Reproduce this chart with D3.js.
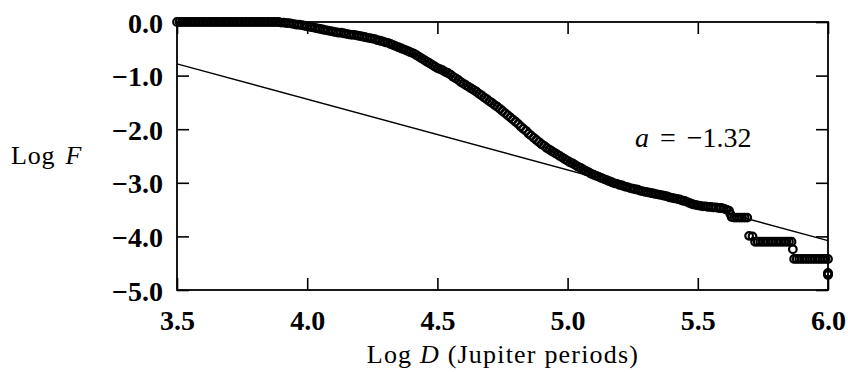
<!DOCTYPE html>
<html>
<head>
<meta charset="utf-8">
<script src="https://cdn.jsdelivr.net/npm/d3@7"></script>
<style>
  body { margin: 0; background: #fff; }
  svg text { font-family: "Liberation Serif", "Times New Roman", serif; fill: #000; }
</style>
</head>
<body>
<script>
// cumulative distribution (Log D, Log F)
var logD = [
  3.50,3.51,3.52,3.53,3.54,3.55,3.56,3.57,3.58,3.59,
  3.60,3.61,3.62,3.63,3.64,3.65,3.66,3.67,3.68,3.69,
  3.70,3.71,3.72,3.73,3.74,3.75,3.76,3.77,3.78,3.79,
  3.80,3.81,3.82,3.83,3.84,3.85,3.86,3.87,3.88,3.89,
  3.90,3.91,3.92,3.93,3.94,3.95,3.96,3.97,3.98,3.99,
  4.00,4.01,4.02,4.03,4.04,4.05,4.06,4.07,4.08,4.09,
  4.10,4.11,4.12,4.13,4.14,4.15,4.16,4.17,4.18,4.19,
  4.20,4.21,4.22,4.23,4.24,4.25,4.26,4.27,4.28,4.29,
  4.30,4.31,4.32,4.33,4.34,4.35,4.36,4.37,4.38,4.39,
  4.40,4.41,4.42,4.43,4.44,4.45,4.46,4.47,4.48,4.49,
  4.50,4.51,4.52,4.53,4.54,4.55,4.56,4.57,4.58,4.59,
  4.60,4.61,4.62,4.63,4.64,4.65,4.66,4.67,4.68,4.69,
  4.70,4.71,4.72,4.73,4.74,4.75,4.76,4.77,4.78,4.79,
  4.80,4.81,4.82,4.83,4.84,4.85,4.86,4.87,4.88,4.89,
  4.90,4.91,4.92,4.93,4.94,4.95,4.96,4.97,4.98,4.99,
  5.00,5.01,5.02,5.03,5.04,5.05,5.06,5.07,5.08,5.09,
  5.10,5.11,5.12,5.13,5.14,5.15,5.16,5.17,5.18,5.19,
  5.20,5.21,5.22,5.23,5.24,5.25,5.26,5.27,5.28,5.29,
  5.30,5.31,5.32,5.33,5.34,5.35,5.36,5.37,5.38,5.39,
  5.40,5.41,5.42,5.43,5.44,5.45,5.46,5.47,5.48,5.49,
  5.50,5.51,5.52,5.53,5.54,5.55,5.56,5.57,5.58,5.59,
  5.60,5.61,5.62,5.625,5.63,5.64,5.65,5.66,5.67,5.68,5.69,
  5.697,5.71,
  5.72,5.73,5.74,5.75,5.76,5.77,5.78,5.79,5.80,5.81,5.82,5.83,5.84,5.85,5.86,
  5.865,
  5.87,5.88,5.89,5.90,5.91,5.92,5.93,5.94,5.95,5.96,5.97,5.98,5.99,6.00,
  6.00,6.00,6.00
];
var logF = [
  0,0,0,0,0,0,0,0,0,0,
  0,0,0,0,0,0,0,0,0,0,
  0,0,0,0,0,0,0,0,0,0,
  0,0,0,0,0,0,0,0,0,0,
  -0.01,-0.01,-0.02,-0.02,-0.03,-0.04,-0.05,-0.05,-0.06,-0.07,
  -0.08,-0.09,-0.10,-0.11,-0.12,-0.13,-0.14,-0.15,-0.16,-0.17,
  -0.18,-0.19,-0.20,-0.20,-0.21,-0.22,-0.23,-0.24,-0.24,-0.25,
  -0.26,-0.27,-0.28,-0.29,-0.30,-0.31,-0.32,-0.34,-0.35,-0.36,
  -0.38,-0.39,-0.41,-0.43,-0.45,-0.47,-0.49,-0.51,-0.53,-0.55,
  -0.57,-0.59,-0.62,-0.65,-0.68,-0.71,-0.74,-0.77,-0.80,-0.83,
  -0.86,-0.88,-0.90,-0.93,-0.95,-0.98,-1.02,-1.05,-1.08,-1.12,
  -1.15,-1.18,-1.21,-1.24,-1.27,-1.30,-1.34,-1.37,-1.41,-1.44,
  -1.48,-1.51,-1.55,-1.58,-1.62,-1.66,-1.70,-1.74,-1.78,-1.82,
  -1.86,-1.90,-1.95,-1.99,-2.03,-2.08,-2.12,-2.16,-2.20,-2.24,
  -2.28,-2.31,-2.35,-2.38,-2.41,-2.44,-2.47,-2.50,-2.53,-2.56,
  -2.59,-2.62,-2.64,-2.67,-2.70,-2.72,-2.75,-2.78,-2.80,-2.83,
  -2.85,-2.87,-2.89,-2.91,-2.93,-2.95,-2.97,-2.99,-3.01,-3.02,
  -3.04,-3.05,-3.07,-3.08,-3.10,-3.11,-3.12,-3.13,-3.15,-3.16,
  -3.17,-3.18,-3.19,-3.20,-3.21,-3.22,-3.23,-3.24,-3.25,-3.27,
  -3.28,-3.29,-3.30,-3.31,-3.33,-3.34,-3.36,-3.38,-3.40,-3.41,
  -3.42,-3.43,-3.44,-3.44,-3.45,-3.45,-3.46,-3.46,-3.47,-3.47,
  -3.48,-3.50,-3.52,-3.58,-3.64,-3.65,-3.65,-3.65,-3.65,-3.65,-3.65,
  -3.99,-4.00,
  -4.10,-4.10,-4.10,-4.10,-4.10,-4.10,-4.10,-4.10,-4.10,-4.10,-4.10,-4.10,-4.10,-4.10,-4.10,
  -4.24,
  -4.42,-4.42,-4.42,-4.42,-4.42,-4.42,-4.42,-4.42,-4.42,-4.42,-4.42,-4.42,-4.42,-4.42,
  -4.68,-4.70,-4.72
];

// power-law fit, slope a = -1.32
var fitD = [3.5, 6.0];
var fitF = [-0.78, -4.08];
var slopeValue = "\u22121.32";

var xTicks = [3.5, 4.0, 4.5, 5.0, 5.5, 6.0];
var yTicks = [0, -1, -2, -3, -4, -5];

var serif = "'Liberation Serif', 'Times New Roman', serif";

var margin = {top: 22, right: 20, bottom: 82, left: 177},
    width = 828 - 177,
    height = 290 - 22;

var svg = d3.select("body")
    .append("svg")
    .attr("width", 848)
    .attr("height", 372);

var g = svg.append("g")
    .attr("transform", "translate(" + margin.left + "," + margin.top + ")");

var x = d3.scaleLinear().domain([3.5, 6.0]).range([0, width]);
var y = d3.scaleLinear().domain([-5, 0]).range([height, 0]);
var fmt = d3.format(".1f");

var xaxis = d3.axisBottom(x).tickValues(xTicks).tickFormat(fmt).tickSizeInner(-12).tickSizeOuter(0);
var yaxis = d3.axisLeft(y).tickValues(yTicks).tickFormat(fmt).tickSizeInner(-12).tickSizeOuter(0).tickPadding(14);
var xtop = d3.axisTop(x).tickValues(xTicks).tickFormat("").tickSizeInner(-12).tickSizeOuter(0);
var yright = d3.axisRight(y).tickValues(yTicks).tickFormat("").tickSizeInner(-12).tickSizeOuter(0);

var gx = g.append("g").attr("transform", "translate(0," + height + ")").call(xaxis);
gx.selectAll("text").attr("y", 40).attr("dy", null);
var gy = g.append("g").call(yaxis);
gy.selectAll("text").attr("dy", "0.36em");
g.append("g").call(xtop);
g.append("g").attr("transform", "translate(" + width + ",0)").call(yright);

g.selectAll(".domain").remove();
g.selectAll(".tick line").attr("stroke", "#000").attr("stroke-width", 1.6);
[gx, gy].forEach(function(a) {
    a.attr("font-family", serif).attr("font-size", 28).attr("font-weight", "bold");
});
g.selectAll(".tick text")
    .attr("fill", "#000")
    .style("font-family", serif)
    .style("font-size", "28px")
    .style("font-weight", "bold");

// frame
g.append("rect")
    .attr("x", 0).attr("y", 0)
    .attr("width", width).attr("height", height)
    .attr("fill", "none")
    .attr("stroke", "#000")
    .attr("stroke-width", 1.8);

// fit line
var fit = fitD.map(function(d, i) { return {d: d, f: fitF[i]}; });
g.append("path")
    .attr("d", d3.line().x(function(p) { return x(p.d); }).y(function(p) { return y(p.f); })(fit))
    .attr("fill", "none")
    .attr("stroke", "#000")
    .attr("stroke-width", 1.4);

// data points (open circles)
var pts = logD.map(function(d, i) { return {d: d, f: logF[i]}; });
g.selectAll(".dot")
    .data(pts)
    .enter().append("circle")
    .attr("class", "dot")
    .attr("cx", function(p) { return x(p.d); })
    .attr("cy", function(p) { return y(p.f); })
    .attr("r", 3.8)
    .attr("fill", "none")
    .attr("stroke", "#000")
    .attr("stroke-width", 2.2);

// labels
var xl = svg.append("text")
    .attr("x", 503)
    .attr("y", 363)
    .attr("text-anchor", "middle")
    .style("font-family", serif)
    .style("font-size", "26px")
    .style("letter-spacing", "1.2px");
xl.append("tspan").text("Log ");
xl.append("tspan").style("font-style", "italic").text("D");
xl.append("tspan").text(" (Jupiter periods)");

var yl = svg.append("text")
    .attr("x", 11)
    .attr("y", 164)
    .style("font-family", serif)
    .style("font-size", "26px")
    .style("letter-spacing", "0.8px");
yl.append("tspan").text("Log ");
yl.append("tspan").attr("dx", 3).style("font-style", "italic").text("F");

var al = svg.append("text")
    .attr("x", 635)
    .attr("y", 147)
    .style("font-family", serif)
    .style("font-size", "28px");
al.append("tspan").style("font-style", "italic").text("a");
al.append("tspan").attr("dx", 11).text("=");
al.append("tspan").attr("dx", 11).text(slopeValue);
</script>
</body>
</html>
